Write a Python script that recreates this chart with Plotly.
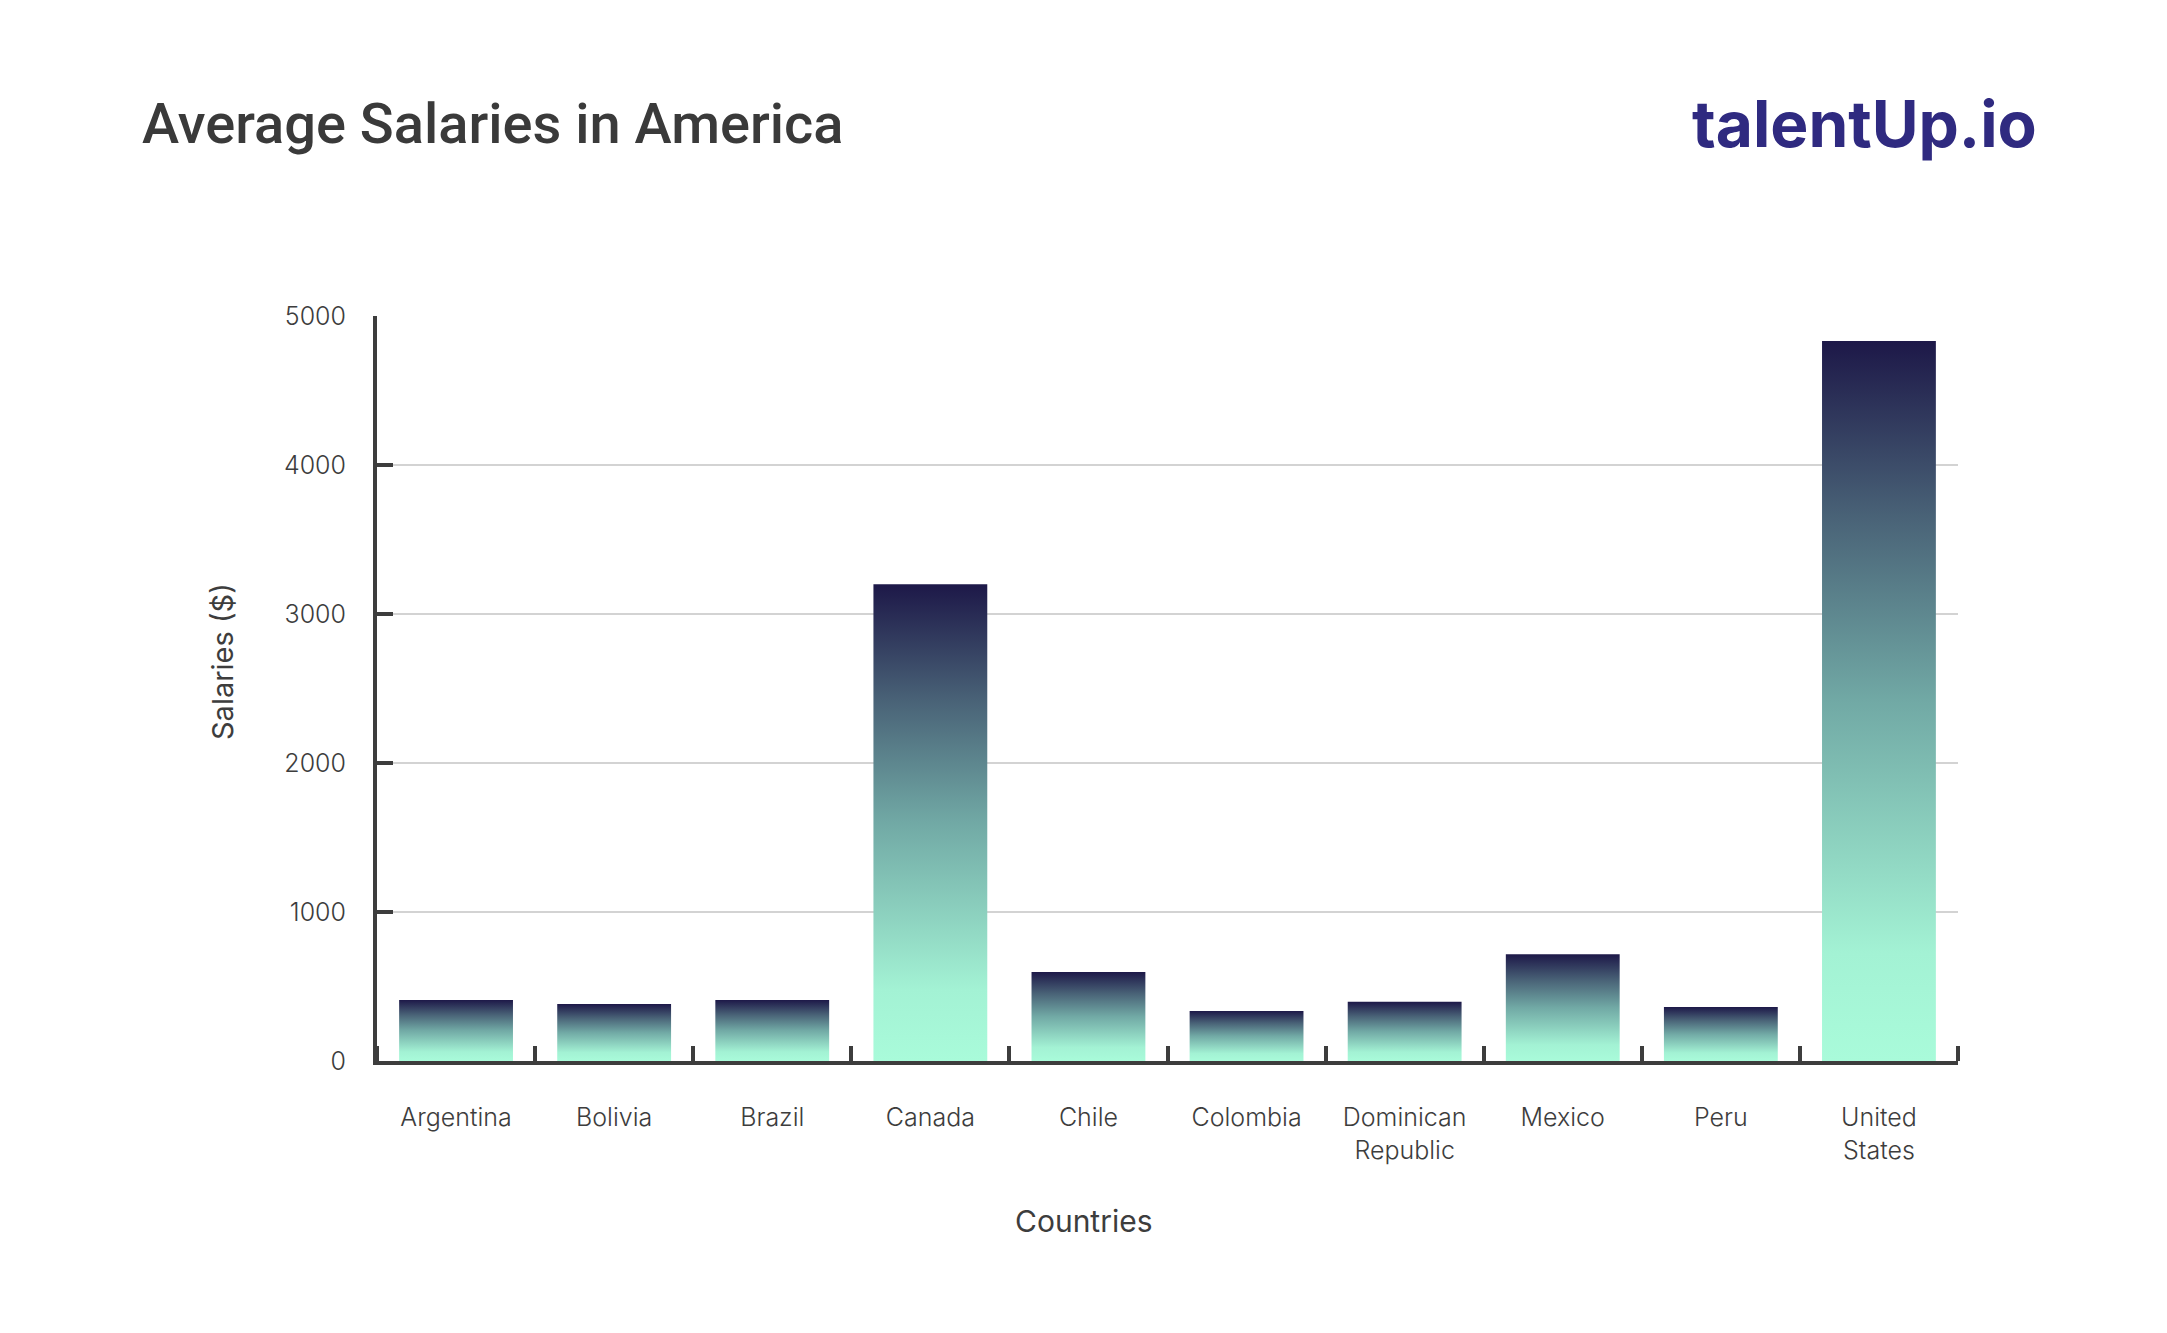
import plotly.graph_objects as go

countries = ["Argentina", "Bolivia", "Brazil", "Canada", "Chile", "Colombia",
             "Dominican Republic", "Mexico", "Peru", "United States"]
tick_labels = ["Argentina", "Bolivia", "Brazil", "Canada", "Chile", "Colombia",
               "Dominican<br>Republic", "Mexico", "Peru", "United<br>States"]
salaries = [410, 382, 410, 3200, 598, 336, 397, 717, 362, 4832]

y_ticks = [0, 1000, 2000, 3000, 4000, 5000]

BAR_W = 0.72
grad = [[0.0, "#a9fbda"], [0.15, "#a3f2d4"], [0.5, "#71a9a5"],
        [0.75, "#4a6478"], [1.0, "#1d1848"]]
AX = "#3d3d3d"
FONT = "Inter"

fig = go.Figure()
for i, (c, v) in enumerate(zip(countries, salaries)):
    x0, x1 = i - BAR_W / 2, i + BAR_W / 2
    fig.add_trace(go.Scatter(
        x=[x0, x0, x1, x1, x0], y=[0, v, v, 0, 0],
        mode="lines", fill="toself", line=dict(width=0),
        fillgradient=dict(type="vertical", colorscale=grad),
        name=c, hoverinfo="skip", showlegend=False))

fig.update_layout(
    width=2167, height=1333,
    margin=dict(l=369, r=217, t=308, b=280),
    paper_bgcolor="white", plot_bgcolor="white",
    font=dict(family=FONT, color=AX),
    xaxis=dict(
        range=[-0.5, 9.5], tickmode="array",
        tickvals=list(range(len(countries))), ticktext=tick_labels,
        ticks="", showgrid=False, zeroline=False,
        showline=True, linecolor=AX, linewidth=4,
        tickfont=dict(size=25, family=FONT, color=AX, weight=300),
        ticklabelstandoff=31,
        minor=dict(tickmode="array",
                   tickvals=[k - 0.5 for k in range(len(countries) + 1)],
                   ticks="inside", ticklen=15, tickwidth=4, tickcolor=AX,
                   showgrid=False),
    ),
    yaxis=dict(
        range=[0, 5000], tickmode="array", tickvals=y_ticks,
        ticks="inside", ticklen=16, tickwidth=4, tickcolor=AX,
        showline=True, linecolor=AX, linewidth=4,
        showgrid=True, gridcolor="#d3d3d3", gridwidth=1.5, zeroline=False,
        tickfont=dict(size=25, family=FONT, color=AX, weight=300),
        ticklabelstandoff=22,
    ),
    annotations=[
        dict(text="Average Salaries in America", xref="paper", yref="paper",
             x=(139 - 376) / 1581, y=(1060 - 123) / 745, xanchor="left", yanchor="middle",
             showarrow=False, font=dict(size=56, family="Roboto", color="#3a3a3a", weight=500)),
        dict(text="<b>talentUp.io</b>", xref="paper", yref="paper",
             x=(2038 - 376) / 1581, y=(1060 - 122) / 745, xanchor="right", yanchor="middle",
             showarrow=False, font=dict(size=64, family=FONT, color="#2f2a80", weight=900)),
        dict(text="Salaries ($)", xref="paper", yref="paper", textangle=-90,
             x=(221 - 376) / 1581, y=(1060 - 661) / 745, xanchor="center", yanchor="middle",
             showarrow=False, font=dict(size=29, family=FONT, color=AX)),
        dict(text="Countries", xref="paper", yref="paper",
             x=(1083 - 376) / 1581, y=(1060 - 1220) / 745, xanchor="center", yanchor="middle",
             showarrow=False, font=dict(size=30, family=FONT, color=AX)),
    ],
)

fig.write_html("out.html")
